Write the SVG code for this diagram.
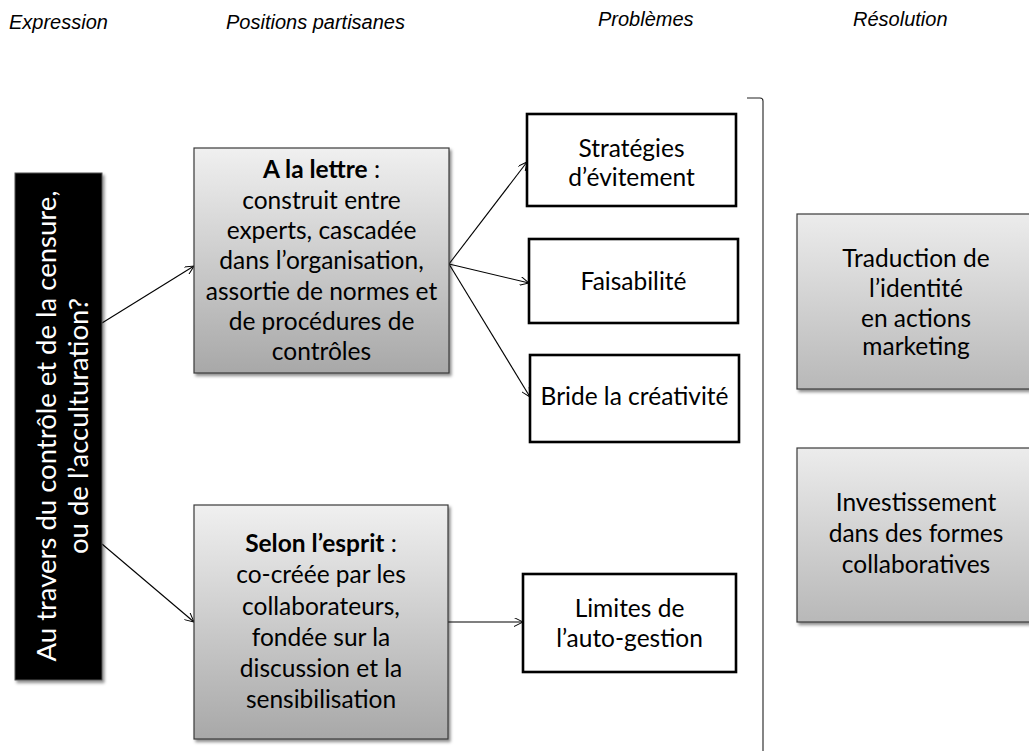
<svg xmlns="http://www.w3.org/2000/svg" width="1029" height="751" viewBox="0 0 1029 751">
<defs>
<style>
.hdr{font-family:"Liberation Sans",Arial,sans-serif;font-style:italic;font-size:20px;fill:#000}
.t{font-family:Lato,"Liberation Sans",sans-serif;font-size:24.5px;fill:#000;text-anchor:middle}
.w{font-family:Lato,"Liberation Sans",sans-serif;font-size:27.5px;fill:#fff;text-anchor:middle}
.gbox{fill:url(#g1);stroke:#3a3a3a;stroke-width:1.2}
.rbox{fill:url(#g2);stroke:#3a3a3a;stroke-width:1.2}
.wbox{fill:#fff;stroke:#000;stroke-width:2.6}
.con{fill:none;stroke:#000;stroke-width:1.1}
b{font-weight:bold}
</style>
<linearGradient id="g1" x1="0" y1="0" x2="0" y2="1">
<stop offset="0" stop-color="#f0f0f0"/>
<stop offset="1" stop-color="#a8a8a8"/>
</linearGradient>
<linearGradient id="g2" x1="0" y1="0" x2="0" y2="1">
<stop offset="0" stop-color="#ececec"/>
<stop offset="1" stop-color="#b8b8b8"/>
</linearGradient>
<filter id="sh" x="-10%" y="-10%" width="130%" height="130%">
<feDropShadow dx="2" dy="2.5" stdDeviation="1.5" flood-color="#000" flood-opacity="0.45"/>
</filter>
<marker id="arr" viewBox="0 0 10 10" refX="10" refY="5" markerWidth="9" markerHeight="9" markerUnits="userSpaceOnUse" orient="auto">
<path d="M0,0 L10,5 L0,10" fill="none" stroke="#000" stroke-width="1.1"/>
</marker>
</defs>
<rect width="1029" height="751" fill="#fff"/>

<g id="headers">
<text class="hdr" x="9" y="29">Expression</text>
<text class="hdr" x="226" y="29">Positions partisanes</text>
<text class="hdr" x="598" y="26">Problèmes</text>
<text class="hdr" x="853" y="26">Résolution</text>
</g>

<g id="bracket">
<path d="M747,98 L760,98 Q763,98 763,101 L763,751" fill="none" stroke="#222" stroke-width="1.1"/>
</g>

<g id="connectors">
<line class="con" x1="102" y1="323" x2="194" y2="266" marker-end="url(#arr)"/>
<line class="con" x1="102" y1="544" x2="194" y2="622" marker-end="url(#arr)"/>
<line class="con" x1="449" y1="264" x2="527" y2="162" marker-end="url(#arr)"/>
<line class="con" x1="449" y1="264" x2="529" y2="283" marker-end="url(#arr)"/>
<line class="con" x1="449" y1="264" x2="530" y2="397" marker-end="url(#arr)"/>
<line class="con" x1="448" y1="622" x2="523" y2="622" marker-end="url(#arr)"/>
</g>

<g id="expression">
<rect x="15" y="173" width="87" height="507" fill="#000" stroke="#555" stroke-width="1" filter="url(#sh)"/>
<g transform="translate(58.5,426) rotate(-90)">
<text class="w" x="0" y="-3">Au travers du contrôle et de la censure,</text>
<text class="w" x="0" y="29">ou de l’acculturation?</text>
</g>
</g>

<g id="lettre">
<rect class="gbox" x="194" y="148" width="255" height="225" filter="url(#sh)"/>
<text class="t" x="321.5" y="178"><tspan font-weight="bold">A la lettre</tspan> :</text>
<text class="t" x="321.5" y="208.5">construit entre</text>
<text class="t" x="321.5" y="239">experts, cascadée</text>
<text class="t" x="321.5" y="269">dans l’organisation,</text>
<text class="t" x="321.5" y="299.5">assortie de normes et</text>
<text class="t" x="321.5" y="330">de procédures de</text>
<text class="t" x="321.5" y="360">contrôles</text>
</g>

<g id="esprit">
<rect class="gbox" x="194" y="505" width="254" height="234" filter="url(#sh)"/>
<text class="t" x="321" y="552"><tspan font-weight="bold">Selon l’esprit</tspan> :</text>
<text class="t" x="321" y="583">co-créée par les</text>
<text class="t" x="321" y="614.5">collaborateurs,</text>
<text class="t" x="321" y="645.5">fondée sur la</text>
<text class="t" x="321" y="676.5">discussion et la</text>
<text class="t" x="321" y="708">sensibilisation</text>
</g>

<g id="strategies">
<rect class="wbox" x="527" y="114" width="209" height="92"/>
<text class="t" x="631.5" y="156.5">Stratégies</text>
<text class="t" x="631.5" y="186">d’évitement</text>
</g>

<g id="faisabilite">
<rect class="wbox" x="529" y="239" width="209" height="84"/>
<text class="t" x="633.5" y="290">Faisabilité</text>
</g>

<g id="bride">
<rect class="wbox" x="530" y="355" width="209" height="87"/>
<text class="t" x="634.5" y="405">Bride la créativité</text>
</g>

<g id="limites">
<rect class="wbox" x="523" y="574" width="213" height="98"/>
<text class="t" x="629.5" y="617">Limites de</text>
<text class="t" x="629.5" y="647">l’auto-gestion</text>
</g>

<g id="traduction">
<rect class="rbox" x="797" y="214" width="240" height="175" filter="url(#sh)"/>
<text class="t" x="916" y="266.5">Traduction de</text>
<text class="t" x="916" y="296.5">l’identité</text>
<text class="t" x="916" y="326.5">en actions</text>
<text class="t" x="916" y="355">marketing</text>
</g>

<g id="investissement">
<rect class="rbox" x="797" y="448" width="240" height="174" filter="url(#sh)"/>
<text class="t" x="916" y="511">Investissement</text>
<text class="t" x="916" y="542">dans des formes</text>
<text class="t" x="916" y="573">collaboratives</text>
</g>
</svg>
